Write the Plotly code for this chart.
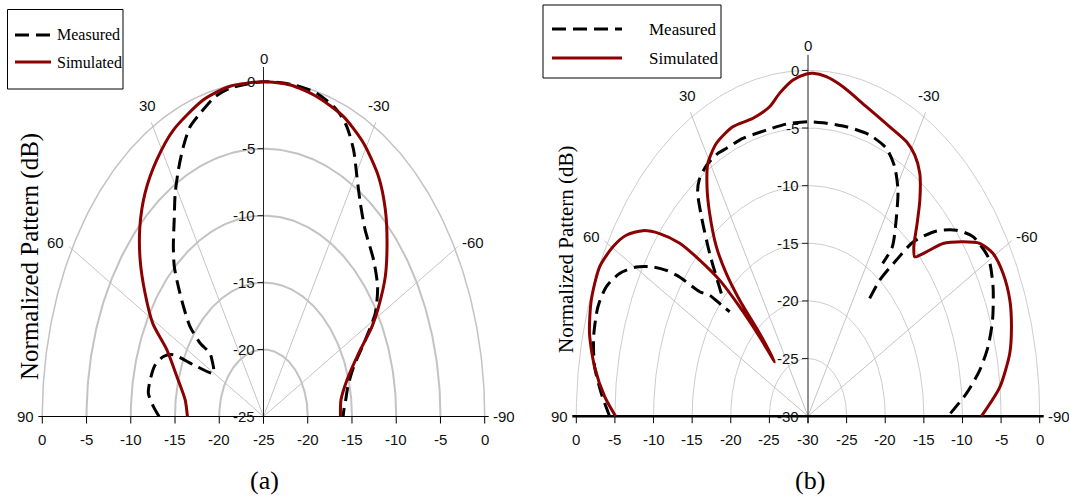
import numpy as np
import plotly.graph_objects as go

W, H = 1069, 498

# ---------------- panel (a) ----------------
# angle in degrees (positive = left of broadside), level in dB
sim_a_theta = [90, 82, 73, 65.5, 61, 55.5, 50, 44.6, 38.7, 32.2, 25.4, 16, 8.7, 0,
               -7, -14.2, -22, -29, -36, -41.8, -47.2, -52.8, -57.8, -61.3, -66.3, -73.9, -82, -90]
sim_a_db = [-16.4, -16.06, -14.76, -13.0, -10.7, -8.76, -6.8, -5.1, -3.6, -2.36, -1.3, -0.4, -0.05, 0,
            -0.06, -0.37, -0.85, -1.67, -2.87, -4.33, -5.97, -7.72, -9.63, -11.02, -13.26, -15.18, -16.16, -16.3]

meas_a_theta = [90, 86.6, 82.4, 78, 72.6, 68.4, 65.7, 64, 60.3, 54, 52, 52.6, 51, 47.8, 44.8, 42, 38.8,
                34.5, 30.9, 27.6, 24.2, 21, 17.5, 12.9, 8.7, 0, -7.8, -14, -19.9, -23.5, -27.1, -30.5,
                -34.5, -39.5, -46.8, -53.1, -58.6, -63.6, -70, -76.7, -82, -86.8, -90]
meas_a_db = [-13.2, -12.54, -11.87, -11.9, -12.16, -12.84, -13.8, -16.2, -18.5, -17.8, -17.3, -16.0, -14.3,
             -12.8, -11.34, -9.93, -8.74, -7.18, -5.57, -4.23, -2.9, -1.83, -1.25, -0.5, -0.2, 0, 0, -0.12,
             -0.65, -1.39, -2.65, -4.2, -5.68, -6.94, -7.93, -8.87, -10.2, -12.16, -14.16, -15.2, -15.6,
             -15.9, -16.0]

ring_db_a = [0, -5, -10, -15, -20, -25]

# ---------------- panel (b) ----------------
sim_b_theta = [90, 86.3, 81.2, 75.8, 70.3, 64.3, 59.8, 56.3, 53, 50.5, 47.9, 46, 44.1, 43, 42.3, 42.5,
               41.1, 41.3, 40.5, 38.9, 35.9, 33.3, 30.6, 26.6, 21.2, 15.4, 10.5, 7.5, 3.8, 0.4, -1.25,
               -4.6, -9, -15.7, -22.8, -28.2, -31.4, -34.5, -37.7, -40.2, -43, -45, -47.1, -49.4, -53,
               -56, -59.5, -63.9, -69, -73.6, -78.2, -84.2, -90]
sim_b_db = [-5.09, -3.62, -2.04, -0.82, -0.19, -0.07, -0.78, -1.71, -3.25, -5.09, -7.62, -10.5, -13.56,
            -17.0, -20.7, -23.6, -20.5, -16.6, -13.7, -11.1, -8.28, -6.18, -4.53, -3.52, -3.07, -3.19,
            -2.7, -1.75, -0.77, -0.31, -0.24, -0.45, -1.06, -2.1, -2.75, -2.99, -3.46, -4.44, -6.32,
            -8.11, -9.91, -10.45, -9.06, -6.97, -4.86, -3.18, -2.19, -1.87, -2.0, -2.54, -3.31, -5.04,
            -7.54]

# measured pattern of (b) consists of three separate traces
meas_b1_theta = [90, 85.8, 81.2, 76.1, 70.8, 66.7, 63.1, 59.8, 57.2, 55.4, 54, 52.4, 50.5, 49.3, 48.2]
meas_b1_db = [-4.31, -3.17, -2.04, -1.4, -1.19, -1.58, -2.64, -4.27, -6.1, -7.71, -9.45, -12.3, -13.5,
              -15.2, -16.4]
meas_b2_theta = [46.5, 42.2, 38.7, 36.3, 34.4, 31, 27.1, 24.5, 19.3, 12.2, 6.3, 0, -4.4, -11.2, -18.1,
                 -23.6, -27.4, -30.7, -33.5, -36.6, -36.1]
meas_b2_db = [-14.53, -11.12, -8.0, -5.85, -5.1, -4.57, -4.39, -4.47, -4.47, -4.6, -4.5, -4.45, -4.47,
              -4.4, -4.33, -4.64, -5.62, -7.18, -9.25, -11.68, -13.6]
meas_b3_theta = [-38, -38.2, -40.2, -42, -46, -50, -53.9, -59.5, -64.9, -70.8, -75.5, -79.8, -84.5, -90]
meas_b3_db = [-17.03, -14.98, -12.27, -9.66, -6.86, -4.9, -3.56, -2.9, -3.54, -4.7, -5.92, -7.4, -9.39,
              -11.87]

ring_db_b = [0, -5, -10, -15, -20, -25, -30]

spoke_angles = [30, 60, -30, -60]
angle_labels = [0, 30, 60, 90, -30, -60, -90]

legend_names = ["Measured", "Simulated"]
captions = ["(a)", "(b)"]
y_title = "Normalized Pattern (dB)"

RED = "#8b0000"
MEAS_DASH = "14px,7px"
TICK_FONT = "Liberation Sans Narrow, Arial Narrow, Liberation Sans, Arial, sans-serif"
SERIF = "Liberation Serif, Times New Roman, serif"


def to_xy(theta, db, floor):
    t = np.radians(np.asarray(theta, dtype=float))
    r = np.asarray(db, dtype=float) - floor
    return -r * np.sin(t), r * np.cos(t)


def join_segments(segments, floor):
    xs, ys = [], []
    for th, db in segments:
        x, y = to_xy(th, db, floor)
        if xs:
            xs.append(None)
            ys.append(None)
        xs.extend(x.tolist())
        ys.extend(y.tolist())
    return xs, ys


panels = [
    dict(xa="x", ya="y", floor=-25, rings=ring_db_a, cx=263.5, cy=416.5, rx=221.2, ry=334.8,
         px0=0, px1=530, arc_color="#c3c3c3", arc_w=2.0, outer_w=1.5, base_w=1.2, axis_top=1.044,
         sim=[(sim_a_theta, sim_a_db)], meas=[(meas_a_theta, meas_a_db)], zero_shift=23),
    dict(xa="x2", ya="y2", floor=-30, rings=ring_db_b, cx=808.0, cy=416.2, rx=231.7, ry=345.8,
         px0=530, px1=W, arc_color="#cdcdcd", arc_w=1.0, outer_w=1.0, base_w=2.6, axis_top=1.045,
         sim=[(sim_b_theta, sim_b_db)],
         meas=[(meas_b1_theta, meas_b1_db), (meas_b2_theta, meas_b2_db), (meas_b3_theta, meas_b3_db)],
         zero_shift=25),
]

fig = go.Figure()
annotations = []
layout_axes = {}

label_offsets = {0: (0, None), 30: (-5, 21), 60: (-16, 7), 90: (-17, 0),
                 -30: (5, 21), -60: (18, 7), -90: (19, 0)}

for i, p in enumerate(panels):
    span = -p["floor"]
    sx = p["rx"] / span
    sy = p["ry"] / span
    xr = [(p["px0"] - p["cx"]) / sx, (p["px1"] - p["cx"]) / sx]
    yr = [-(H - p["cy"]) / sy, p["cy"] / sy]
    sfx = "" if i == 0 else "2"
    layout_axes["xaxis" + sfx] = dict(domain=[p["px0"] / W, p["px1"] / W], range=xr, visible=False,
                                      fixedrange=True, anchor="y" + sfx)
    layout_axes["yaxis" + sfx] = dict(domain=[0, 1], range=yr, visible=False, fixedrange=True,
                                      anchor="x" + sfx)
    common = dict(xaxis=p["xa"], yaxis=p["ya"], hoverinfo="skip", showlegend=False, mode="lines")

    # grid arcs
    arc_t = np.linspace(-90, 90, 241)
    for lvl in p["rings"][:-1]:
        ax_, ay_ = to_xy(arc_t, np.full_like(arc_t, lvl), p["floor"])
        w = p["outer_w"] if lvl == 0 else p["arc_w"]
        fig.add_trace(go.Scatter(x=ax_, y=ay_, line=dict(color=p["arc_color"], width=w), **common))

    # angular spokes
    sxs, sys_ = [], []
    for a in spoke_angles:
        ex, ey = to_xy([a], [p["floor"] + span * 1.015], p["floor"])
        sxs += [0, ex[0], None]
        sys_ += [0, ey[0], None]
    fig.add_trace(go.Scatter(x=sxs, y=sys_, line=dict(color="#c4c4c4", width=1), **common))

    # vertical (0 deg) axis with small ticks
    fig.add_trace(go.Scatter(x=[0, 0], y=[0, span * p["axis_top"]],
                             line=dict(color="#222222", width=1), **common))
    tx, ty = [], []
    for lvl in p["rings"][:-1]:
        r = lvl - p["floor"]
        tx += [-6 / sx, 0, None]
        ty += [r, r, None]
    fig.add_trace(go.Scatter(x=tx, y=ty, line=dict(color="#222222", width=1), **common))

    # baseline (+/-90 deg) with ticks
    ext = 4 / sx
    fig.add_trace(go.Scatter(x=[-span - ext, span + ext], y=[0, 0],
                             line=dict(color="black", width=p["base_w"]), **common))
    bx, by = [], []
    for lvl in p["rings"]:
        r = lvl - p["floor"]
        for sgn in (-1, 1):
            bx += [sgn * r, sgn * r, None]
            by += [0, -7 / sy, None]
    fig.add_trace(go.Scatter(x=bx, y=by, line=dict(color="black", width=1), **common))

    # patterns
    mx, my = join_segments(p["meas"], p["floor"])
    fig.add_trace(go.Scatter(x=mx, y=my, line=dict(color="black", width=3, dash=MEAS_DASH,
                                                   shape="spline", smoothing=0.7),
                             connectgaps=False, **common))
    smx, smy = join_segments(p["sim"], p["floor"])
    fig.add_trace(go.Scatter(x=smx, y=smy, line=dict(color=RED, width=3, shape="spline", smoothing=0.7),
                             **common))

    # radial level labels along the vertical axis
    for lvl in p["rings"]:
        annotations.append(dict(x=0, y=lvl - p["floor"], xref=p["xa"], yref=p["ya"], text=str(lvl),
                                showarrow=False, xanchor="right", yanchor="middle", xshift=-7,
                                font=dict(family=TICK_FONT, size=15, color="#111111")))
    # level labels under the baseline
    for lvl in p["rings"]:
        r = lvl - p["floor"]
        sides = (-1, 1) if r > 0 else (1,)
        for sgn in sides:
            annotations.append(dict(x=sgn * r, y=0, xref=p["xa"], yref=p["ya"], text=str(lvl),
                                    showarrow=False, xanchor="center", yanchor="middle", yshift=-23,
                                    font=dict(family=TICK_FONT, size=15, color="#111111")))
    # angle labels
    for a in angle_labels:
        ex, ey = to_xy([a], [0], p["floor"])
        dx, dy = label_offsets[a]
        if dy is None:
            dy = p["zero_shift"]
        annotations.append(dict(x=ex[0], y=ey[0], xref=p["xa"], yref=p["ya"], text=str(a),
                                showarrow=False, xanchor="center", yanchor="middle",
                                xshift=dx, yshift=dy,
                                font=dict(family=TICK_FONT, size=15, color="#111111")))

# y titles and captions
annotations.append(dict(x=30 / W, y=1 - 257 / H, xref="paper", yref="paper", text=y_title,
                        textangle=-90, showarrow=False, xanchor="center", yanchor="middle",
                        font=dict(family=SERIF, size=25, color="black")))
annotations.append(dict(x=566 / W, y=1 - 249 / H, xref="paper", yref="paper", text=y_title,
                        textangle=-90, showarrow=False, xanchor="center", yanchor="middle",
                        font=dict(family=SERIF, size=21, color="black")))
for cap, cxp in zip(captions, [264, 810]):
    annotations.append(dict(x=cxp / W, y=1 - 480 / H, xref="paper", yref="paper", text=cap,
                            showarrow=False, xanchor="center", yanchor="middle",
                            font=dict(family=SERIF, size=26, color="black")))

# legend boxes
shapes = []
legend_boxes = [
    dict(box=(7.5, 9.5, 123, 89), rows=(35, 62), line=(15, 51), text_x=55, size=16),
    dict(box=(543, 5, 721, 78), rows=(29, 58), line=(552, 622), text_x=647, size=17),
]


def px(xp):
    return xp / W


def py(yp):
    return 1 - yp / H


for lb in legend_boxes:
    x0, y0, x1, y1 = lb["box"]
    shapes.append(dict(type="rect", xref="paper", yref="paper", x0=px(x0), x1=px(x1), y0=py(y1), y1=py(y0),
                       line=dict(color="black", width=1), fillcolor="white", layer="above"))
    styles = [dict(color="black", width=3, dash=MEAS_DASH), dict(color=RED, width=3)]
    for name, row, st in zip(legend_names, lb["rows"], styles):
        shapes.append(dict(type="line", xref="paper", yref="paper", x0=px(lb["line"][0]), x1=px(lb["line"][1]),
                           y0=py(row), y1=py(row), line=st, layer="above"))
        annotations.append(dict(x=px(lb["text_x"]), y=py(row), xref="paper", yref="paper", text=name,
                                showarrow=False, xanchor="left", yanchor="middle",
                                font=dict(family=SERIF, size=lb["size"], color="black")))

fig.update_layout(
    width=W, height=H, autosize=False,
    margin=dict(l=0, r=0, t=0, b=0, pad=0),
    paper_bgcolor="white", plot_bgcolor="white",
    showlegend=False,
    annotations=annotations,
    shapes=shapes,
    **layout_axes,
)

fig.write_html("out.html", config=dict(displayModeBar=False, staticPlot=True))
